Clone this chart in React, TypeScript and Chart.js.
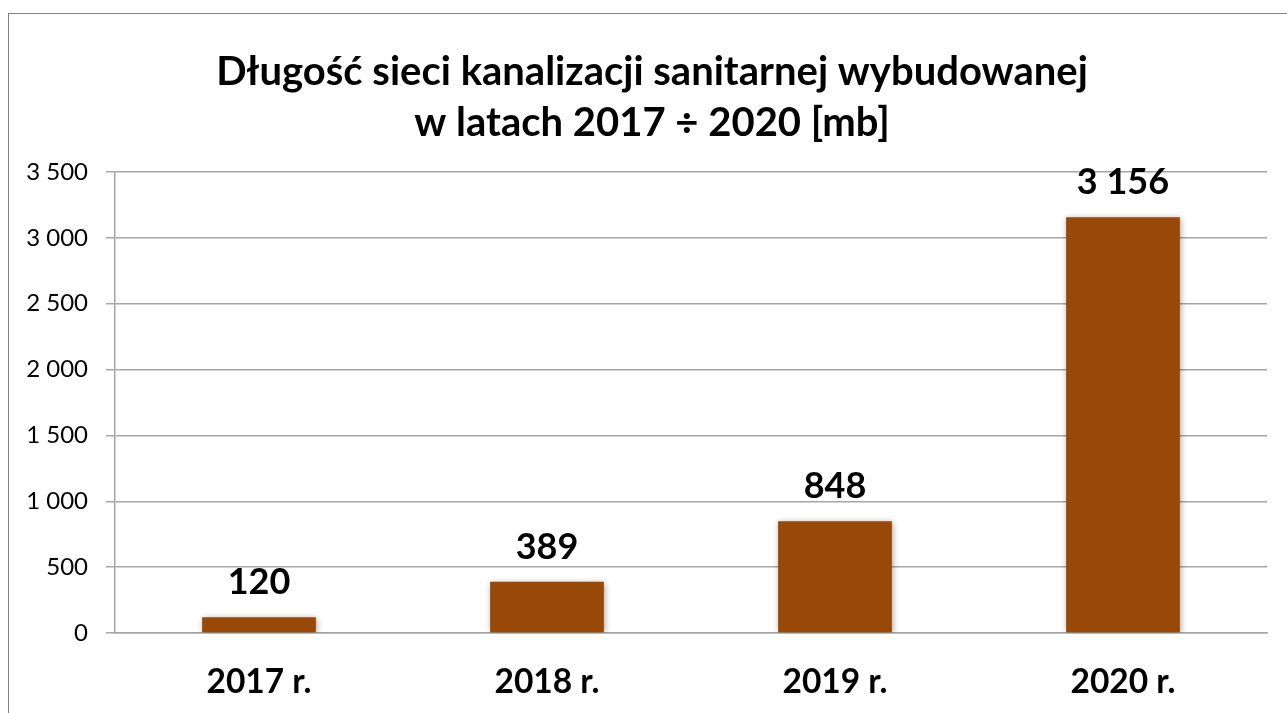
import React, { useEffect, useRef } from "react";
import { Chart, registerables } from "chart.js";

Chart.register(...registerables);

const categories: string[] = ["2017 r.", "2018 r.", "2019 r.", "2020 r."];
const values: number[] = [120, 389, 848, 3156];
const titleLines: string[] = [
  "Długość sieci kanalizacji sanitarnej wybudowanej",
  "w latach 2017 ÷ 2020 [mb]",
];
const yMin = 0;
const yMax = 3500;
const yStep = 500;

const FONT = "Lato, 'DejaVu Sans', sans-serif";
const BAR_COLOR = "#984807";
const GRID_COLOR = "#a6a6a6";

const fmt = (v: number) => String(v).replace(/\B(?=(\d{3})+(?!\d))/g, " ");

const titlePlugin = {
  id: "customTitle",
  afterDraw(chart: any) {
    const ctx = chart.ctx;
    ctx.save();
    ctx.font = `bold 40px ${FONT}`;
    ctx.fillStyle = "#000";
    ctx.textAlign = "center";
    ctx.textBaseline = "middle";
    const cx = (chart.width + 8) / 2;
    titleLines.forEach((line, i) => {
      ctx.fillText(line, cx, 58 + i * 51);
    });
    ctx.restore();
  },
};

const shadowPlugin = {
  id: "barShadow",
  beforeDatasetsDraw(chart: any) {
    const ctx = chart.ctx;
    ctx.save();
    ctx.shadowColor = "rgba(0,0,0,0.35)";
    ctx.shadowBlur = 6;
    ctx.shadowOffsetX = 1;
    ctx.shadowOffsetY = 1;
  },
  afterDatasetsDraw(chart: any) {
    chart.ctx.restore();
  },
};

const valueLabelPlugin = {
  id: "valueLabels",
  afterDatasetsDraw(chart: any) {
    const ctx = chart.ctx;
    const meta = chart.getDatasetMeta(0);
    const data = chart.data.datasets[0].data as number[];
    ctx.save();
    ctx.font = `bold 36px ${FONT}`;
    ctx.fillStyle = "#000";
    ctx.textAlign = "center";
    ctx.textBaseline = "alphabetic";
    meta.data.forEach((bar: any, i: number) => {
      ctx.fillText(fmt(data[i]), bar.x, bar.y - 23);
    });
    ctx.restore();
  },
};

export default function App() {
  const canvasRef = useRef<HTMLCanvasElement | null>(null);

  useEffect(() => {
    if (!canvasRef.current) return;
    const chart = new Chart(canvasRef.current, {
      type: "bar",
      data: {
        labels: categories,
        datasets: [
          {
            data: values,
            backgroundColor: BAR_COLOR,
            borderWidth: 0,
            barPercentage: 0.395,
            categoryPercentage: 1,
          },
        ],
      },
      options: {
        animation: false,
        responsive: true,
        maintainAspectRatio: false,
        layout: { padding: { left: 0, right: 20, top: 158, bottom: 0 } },
        plugins: {
          legend: { display: false },
          tooltip: { enabled: false },
          title: { display: false },
        },
        scales: {
          x: {
            grid: { display: false },
            border: { display: true, color: GRID_COLOR, width: 1.5 },
            ticks: {
              color: "#000",
              font: { family: FONT, size: 33.5, weight: "bold" },
              padding: 21,
              maxRotation: 0,
            },
            afterFit(scale: any) {
              scale.height = 80;
            },
          },
          y: {
            min: yMin,
            max: yMax,
            grid: {
              color: GRID_COLOR,
              lineWidth: 1.5,
              drawTicks: true,
              tickLength: 9,
            },
            border: { display: true, color: GRID_COLOR, width: 1.5 },
            ticks: {
              stepSize: yStep,
              color: "#000",
              font: { family: FONT, size: 24 },
              padding: 18,
              callback: (v: any) => fmt(Number(v)),
            },
            afterFit(scale: any) {
              scale.width = 106;
            },
          },
        },
      },
      plugins: [shadowPlugin, valueLabelPlugin, titlePlugin],
    });
    return () => chart.destroy();
  }, []);

  return (
    <div
      style={{
        position: "fixed",
        left: 8,
        top: 13,
        width: 1279,
        height: 700,
        boxSizing: "border-box",
        borderLeft: "1px solid #808080",
        borderTop: "1px solid #808080",
        background: "#fff",
      }}
    >
      <div style={{ position: "relative", width: "100%", height: "100%" }}>
        <canvas ref={canvasRef} />
      </div>
    </div>
  );
}
